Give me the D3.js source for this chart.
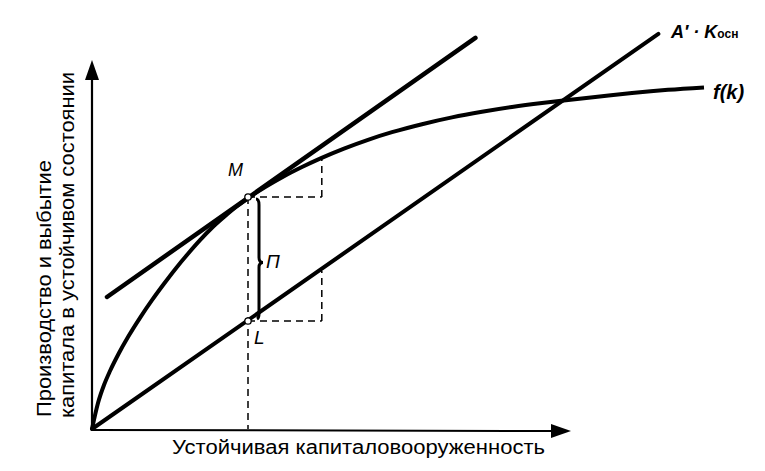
<!DOCTYPE html>
<html><head><meta charset="utf-8">
<script src="https://cdn.jsdelivr.net/npm/d3@7/dist/d3.min.js"></script>
<style>body{margin:0;background:#fff}svg{display:block}</style>
</head><body><svg id="c" width="765" height="471"></svg>
<script>
// Data (abstract units)
const fkX = [0,1,2,3,4.5,6,8,10,12,14,16,18,20,22,24,26.3,29,32,35,38,42,46,50,55,60,65,70,75,79,85,90,96,102];
const fkY = [0,6.5,11,14.5,19,23,27.8,32.2,36.3,40.2,43.8,47.2,50.3,53,55.5,58,60.6,63.2,65.5,67.6,70.1,72.3,74.2,76.2,77.9,79.3,80.5,81.5,82.2,83.2,84,84.8,85.4];
const deprLine = [[0,0],[94.4,98.8]];          // A' - Kосн
const tangent = [[2.5,33],[63.9,97.8]];        // tangent at M
const pointM = [26,58];
const pointL = [26,27];
const boxX = 38.3;
const boxTopM = 67.5;
const boxTopL = 39.5;
const labels = {x:"Устойчивая капиталовооруженность", y1:"Производство и выбытие", y2:"капитала в устойчивом состоянии"};

const fk = fkX.map((v,i)=>[v,fkY[i]]);
const svg = d3.select("#c");
const x = d3.scaleLinear().domain([0,100]).range([92,692]);
const y = d3.scaleLinear().domain([0,100]).range([429,29]);
const line = d3.line().x(d=>x(d[0])).y(d=>y(d[1]));
const curve = d3.line().x(d=>x(d[0])).y(d=>y(d[1])).curve(d3.curveMonotoneX);

// axes
svg.append("line").attr("x1",x(0)).attr("y1",y(0)).attr("x2",x(0)).attr("y2",72).attr("stroke","#000").attr("stroke-width",2.2);
svg.append("path").attr("d",`M${x(0)},60 L${x(0)-7},80 L${x(0)+7},80 Z`).attr("fill","#000");
svg.append("line").attr("x1",x(0)).attr("y1",y(0)+1).attr("x2",556).attr("y2",y(0)+2).attr("stroke","#000").attr("stroke-width",2);
svg.append("path").attr("d",`M571,${y(0)+2} L551,${y(0)-5} L551,${y(0)+9} Z`).attr("fill","#000");

// dashed guides
const dash = (x1,y1,x2,y2)=>svg.append("line").attr("x1",x(x1)).attr("y1",y(y1)).attr("x2",x(x2)).attr("y2",y(y2))
  .attr("stroke","#000").attr("stroke-width",1.5).attr("stroke-dasharray","7,5");
dash(pointM[0],pointM[1],pointM[0],0);
dash(pointM[0],pointM[1],boxX,pointM[1]);
dash(boxX,pointM[1],boxX,boxTopM);
dash(pointL[0],pointL[1],boxX,pointL[1]);
dash(boxX,pointL[1],boxX,boxTopL);

// main curves
svg.append("path").attr("d",curve(fk)).attr("fill","none").attr("stroke","#000").attr("stroke-width",4);
svg.append("path").attr("d",line(deprLine)).attr("fill","none").attr("stroke","#000").attr("stroke-width",4).attr("stroke-linecap","round");
svg.append("path").attr("d",line(tangent)).attr("fill","none").attr("stroke","#000").attr("stroke-width",4.5).attr("stroke-linecap","round");

// brace between M and L
const bx = x(pointM[0])+11, yt = y(pointM[1])+2, yb = y(pointL[1])-3, ym = (yt+yb)/2 + 4;
const br = d3.path();
br.moveTo(bx-3, yt); br.quadraticCurveTo(bx, yt, bx, yt+6);
br.lineTo(bx, ym-5); br.quadraticCurveTo(bx, ym, bx+4, ym);
br.quadraticCurveTo(bx, ym, bx, ym+5);
br.lineTo(bx, yb-4); br.quadraticCurveTo(bx, yb, bx-2, yb+1);
svg.append("path").attr("d",br.toString()).attr("fill","none").attr("stroke","#000").attr("stroke-width",3);

// points
[pointM,pointL].forEach(p=>svg.append("circle").attr("cx",x(p[0])).attr("cy",y(p[1])).attr("r",3.2).attr("fill","#fff").attr("stroke","#000").attr("stroke-width",1.3));

// labels
const t = (tx,ty,s,opt={})=>svg.append("text").attr("x",tx).attr("y",ty).text(s)
  .attr("font-family","Liberation Sans, Arial, sans-serif").attr("font-size",opt.size||18)
  .attr("font-style",opt.italic?"italic":"normal").attr("font-weight",opt.bold?"bold":"normal").attr("fill","#000");
t(228,176,"M",{italic:true,size:18});
t(254,344,"L",{italic:true,size:19});
t(266,268,"П",{italic:true,size:19});
t(713,99,"f(k)",{italic:true,bold:true,size:20});
const ak = t(671,38,"A′ · K",{italic:true,bold:true,size:18});
ak.append("tspan").text("осн").attr("font-size",12).attr("font-weight","bold").attr("font-style","normal");

svg.append("text").attr("x",172).attr("y",454).text(labels.x)
  .attr("font-family","Liberation Sans, Arial, sans-serif").attr("font-size",20)
  .attr("textLength",373).attr("lengthAdjust","spacingAndGlyphs");
svg.append("text").attr("transform","translate(51,417) rotate(-90)").text(labels.y1)
  .attr("font-family","Liberation Sans, Arial, sans-serif").attr("font-size",20)
  .attr("textLength",257).attr("lengthAdjust","spacingAndGlyphs");
svg.append("text").attr("transform","translate(74,418) rotate(-90)").text(labels.y2)
  .attr("font-family","Liberation Sans, Arial, sans-serif").attr("font-size",20)
  .attr("textLength",346).attr("lengthAdjust","spacingAndGlyphs");
</script></body></html>
